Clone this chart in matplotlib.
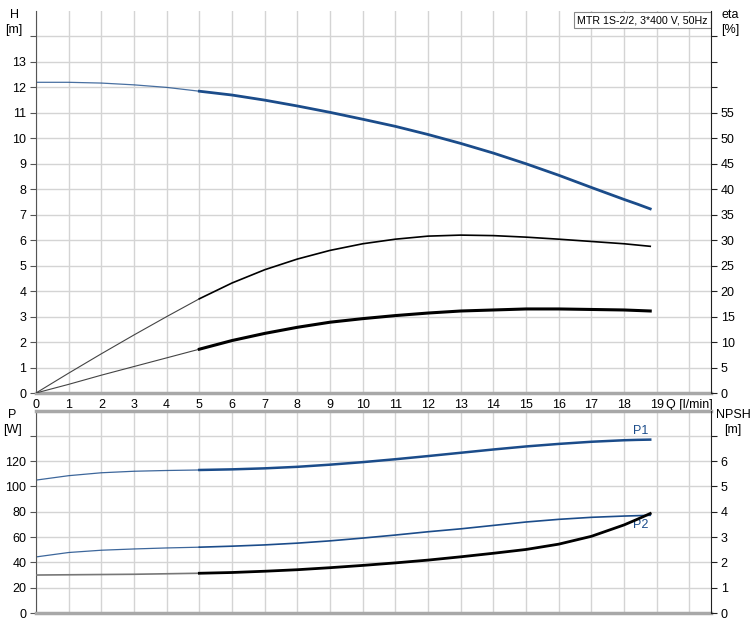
import matplotlib
matplotlib.use("Agg")
import matplotlib.pyplot as plt
import numpy as np

plt.rcParams['font.family'] = ['Liberation Sans', 'DejaVu Sans']
plt.rcParams['font.size'] = 9

# ---- data ----
q = [0, 1, 2, 3, 4, 5, 6, 7, 8, 9, 10, 11, 12, 13, 14, 15, 16, 17, 18, 18.4, 18.8]
h_m = [12.2, 12.2, 12.17, 12.1, 12.0, 11.85, 11.7, 11.5, 11.27, 11.02, 10.75,
       10.47, 10.15, 9.8, 9.42, 9.0, 8.55, 8.07, 7.6, 7.42, 7.23]
eta_pump = [0, 3.9, 7.7, 11.4, 15.0, 18.5, 21.6, 24.2, 26.3, 28.0, 29.3, 30.2,
            30.8, 31.0, 30.9, 30.6, 30.2, 29.75, 29.3, 29.05, 28.8]
eta_total = [0, 1.7, 3.5, 5.2, 6.9, 8.6, 10.3, 11.7, 12.9, 13.9, 14.6, 15.2,
             15.7, 16.1, 16.3, 16.5, 16.5, 16.4, 16.3, 16.2, 16.1]
p1_w = [105, 108.5, 110.8, 112, 112.6, 113, 113.5, 114.3, 115.5, 117.2, 119.2,
        121.5, 124, 126.6, 129.2, 131.6, 133.6, 135.3, 136.5, 136.8, 137]
p2_w = [44.3, 47.8, 49.6, 50.6, 51.4, 52.0, 52.8, 53.8, 55.2, 57.0, 59.2,
        61.6, 64.2, 66.5, 69.2, 71.9, 74.0, 75.6, 76.6, 76.9, 77.2]
npsh_m = [1.5, 1.51, 1.52, 1.53, 1.55, 1.57, 1.6, 1.65, 1.71, 1.79, 1.88, 1.98,
          2.09, 2.22, 2.36, 2.51, 2.72, 3.03, 3.48, 3.7, 3.93]

q_ticks = list(range(0, 21))
q_labels = [str(i) for i in range(0, 20)] + ['Q [l/min]']
h_ticks = list(range(0, 15))
h_labels = [str(i) for i in range(0, 14)] + ['']
eta_ticks = list(range(0, 75, 5))
eta_labels = [str(v) for v in range(0, 60, 5)] + ['', '', '']
p_ticks = list(range(0, 160, 20))
p_labels = [str(v) for v in range(0, 140, 20)] + ['']
npsh_ticks = list(range(0, 8))
npsh_labels = [str(v) for v in range(0, 7)] + ['']
title_text = 'MTR 1S-2/2, 3*400 V, 50Hz'

BLUE = '#1b4c8a'
GRID = '#d4d4d4'
SPINE_GRAY = '#a8a8a8'

qa = np.array(q)
lo = qa <= 5
hi = qa >= 5

W, H = 755, 625
fig = plt.figure(figsize=(7.55, 6.25), dpi=100)

def fx(px):
    return px / W

def fy(py):
    return 1 - py / H

ax1 = fig.add_axes([fx(36), fy(393), fx(711) - fx(36), fy(11) - fy(393)])
ax2 = fig.add_axes([fx(36), fy(613), fx(711) - fx(36), fy(410.5) - fy(613)])


def style(ax, xlabels):
    ax.set_xlim(0, 20.66)
    ax.set_xticks(q_ticks)
    ax.grid(True, color=GRID, lw=1)
    ax.set_axisbelow(True)
    if xlabels:
        ax.set_xticklabels(q_labels)
    else:
        ax.set_xticklabels([])
    ax.tick_params(axis='x', length=0, pad=4, labelsize=9)
    ax.tick_params(axis='y', length=4, color='#555555', direction='out', pad=3, labelsize=9)
    ax.spines['left'].set_color('#555555')
    ax.spines['right'].set_visible(False)
    ax.spines['bottom'].set_color(SPINE_GRAY)
    ax.spines['bottom'].set_linewidth(2.5)


# ---- top axes ----
style(ax1, True)
ax1.spines['top'].set_visible(False)
ax1.set_ylim(0, 15)
ax1.set_yticks(h_ticks)
ax1.set_yticklabels(h_labels)

ax1r = ax1.twinx()
ax1r.set_ylim(0, 75)
ax1r.set_yticks(eta_ticks)
ax1r.set_yticklabels(eta_labels)
ax1r.tick_params(axis='y', length=4, color='#222222', direction='out', pad=3, labelsize=9)
for s in ['top', 'left', 'bottom']:
    ax1r.spines[s].set_visible(False)
ax1r.spines['right'].set_color('#222222')

h_a = np.array(h_m)
ax1.plot(qa[lo], h_a[lo], color=BLUE, lw=0.9, alpha=0.8)
ax1.plot(qa[hi], h_a[hi], color=BLUE, lw=2.0)
ep = np.array(eta_pump)
et = np.array(eta_total)
ax1r.plot(qa[lo], ep[lo], color='#444444', lw=0.8)
ax1r.plot(qa[hi], ep[hi], color='black', lw=1.2)
ax1r.plot(qa[lo], et[lo], color='#444444', lw=0.8)
ax1r.plot(qa[hi], et[hi], color='black', lw=2.2)

ax1.annotate(title_text, xy=(1, 1), xycoords='axes fraction',
             xytext=(-2.5, -3), textcoords='offset points', ha='right', va='top',
             fontsize=7.7,
             bbox=dict(boxstyle='square,pad=0.3', fc='white', ec='#888888', lw=0.8))

# ---- bottom axes ----
style(ax2, False)
ax2.spines['top'].set_color(SPINE_GRAY)
ax2.spines['top'].set_linewidth(2.5)
ax2.set_ylim(0, 160)
ax2.set_yticks(p_ticks)
ax2.set_yticklabels(p_labels)

ax2r = ax2.twinx()
ax2r.set_ylim(0, 8)
ax2r.set_yticks(npsh_ticks)
ax2r.set_yticklabels(npsh_labels)
ax2r.tick_params(axis='y', length=4, color='#222222', direction='out', pad=3, labelsize=9)
for s in ['top', 'left', 'bottom']:
    ax2r.spines[s].set_visible(False)
ax2r.spines['right'].set_color('#222222')

p1 = np.array(p1_w)
p2 = np.array(p2_w)
npa = np.array(npsh_m)
ax2.plot(qa[lo], p1[lo], color=BLUE, lw=0.9, alpha=0.85)
ax2.plot(qa[hi], p1[hi], color=BLUE, lw=1.8)
ax2.plot(qa[lo], p2[lo], color=BLUE, lw=0.9, alpha=0.85)
ax2.plot(qa[hi], p2[hi], color=BLUE, lw=1.2)
ax2r.plot(qa[lo], npa[lo], color='#777777', lw=1.2)
ax2r.plot(qa[hi], npa[hi], color='black', lw=2.0)

ax2.text(q[-1] - 0.3, p1[-1] + 2, 'P1', color=BLUE, fontsize=9, ha='center', va='bottom')
ax2.text(q[-1] - 0.3, p2[-1] - 3, 'P2', color=BLUE, fontsize=9, ha='center', va='top')

# ---- axis titles ----
fig.text(fx(14), fy(9), 'H\n[m]', ha='center', va='top', fontsize=9, linespacing=1.3)
fig.text(fx(730), fy(9), 'eta\n[%]', ha='center', va='top', fontsize=9, linespacing=1.3)
fig.text(fx(12), fy(409), 'P\n[W]', ha='center', va='top', fontsize=9, linespacing=1.3)
fig.text(fx(733), fy(409), 'NPSH\n[m]', ha='center', va='top', fontsize=9, linespacing=1.3)

fig.savefig('out.png', dpi=100)
